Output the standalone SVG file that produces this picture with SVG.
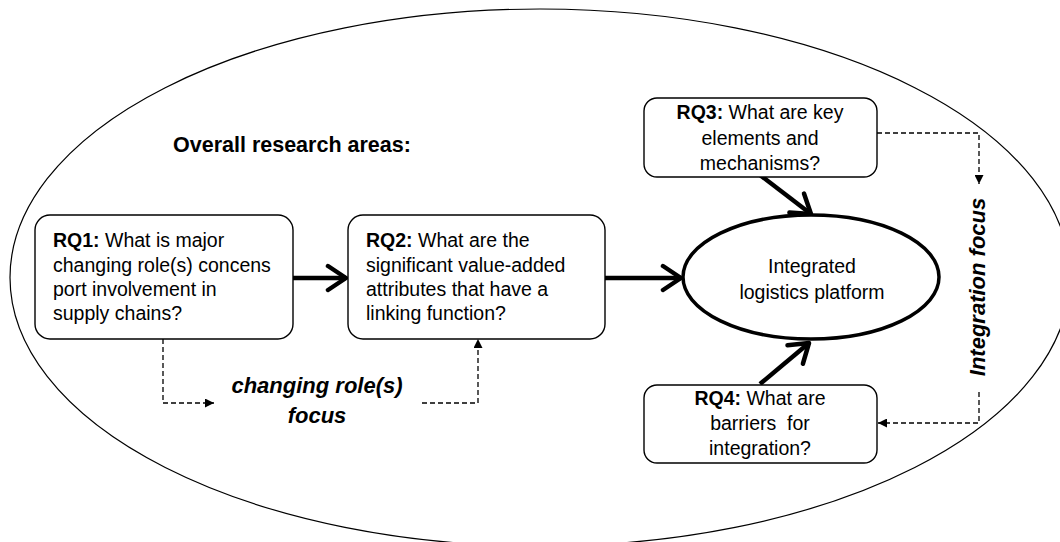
<svg xmlns="http://www.w3.org/2000/svg" width="1060" height="542" viewBox="0 0 1060 542">
<style>
  text { font-family: "Liberation Sans", Arial, sans-serif; fill: #000; }
  .t { font-size: 19.5px; }
  .b { font-weight: bold; }
  .bi { font-weight: bold; font-style: italic; font-size: 22px; }
  .box { fill: #fff; stroke: #000; stroke-width: 1.4; }
  .thick { fill: none; stroke: #000; stroke-width: 4.5; marker-end: url(#chev); }
  .dash { fill: none; stroke: #000; stroke-width: 1.3; stroke-dasharray: 5 3; }
</style>
<defs>
  <marker id="chev" markerUnits="userSpaceOnUse" viewBox="0 0 24 30" refX="21" refY="15" markerWidth="24" markerHeight="30" orient="auto">
    <path d="M3,3 L21,15 L3,27" fill="none" stroke="#000" stroke-width="4.5" stroke-linecap="round" stroke-linejoin="round"/>
  </marker>
  <marker id="tri" markerUnits="userSpaceOnUse" viewBox="0 0 10 10" refX="10" refY="5" markerWidth="10" markerHeight="9" orient="auto">
    <path d="M0,0 L10,5 L0,10 z" fill="#000"/>
  </marker>
</defs>

<g id="outer">
  <ellipse cx="540" cy="277.6" rx="530" ry="268.6" fill="none" stroke="#000" stroke-width="1.2"/>
  <text class="b" x="173" y="152" font-size="21.5">Overall research areas:</text>
</g>

<g id="connectors">
  <line class="thick" x1="293" y1="278" x2="346" y2="278"/>
  <line class="thick" x1="605" y1="278" x2="681" y2="278"/>
  <line class="thick" x1="760" y1="175" x2="811" y2="214"/>
  <line class="thick" x1="760" y1="384" x2="809" y2="343"/>
  <path class="dash" d="M877,133 H979 V184" marker-end="url(#tri)"/>
  <path class="dash" d="M979,392 V423 H878" marker-end="url(#tri)"/>
  <path class="dash" d="M163,339 V403 H214" marker-end="url(#tri)"/>
  <path class="dash" d="M422,403 H478 V339" marker-end="url(#tri)"/>
</g>

<g id="rq1">
  <rect class="box" x="35" y="215" width="258" height="124" rx="15"/>
  <text class="t" x="53"><tspan y="247"><tspan class="b">RQ1:</tspan> What is major</tspan><tspan x="53" y="272">changing role(s) concens</tspan><tspan x="53" y="296">port involvement in</tspan><tspan x="53" y="320">supply chains?</tspan></text>
</g>

<g id="rq2">
  <rect class="box" x="348" y="215" width="257" height="124" rx="15"/>
  <text class="t" x="366"><tspan y="247"><tspan class="b">RQ2:</tspan> What are the</tspan><tspan x="366" y="272">significant value-added</tspan><tspan x="366" y="296">attributes that have a</tspan><tspan x="366" y="320">linking function?</tspan></text>
</g>

<g id="platform">
  <ellipse cx="811" cy="277" rx="128" ry="62" fill="#fff" stroke="#000" stroke-width="3.5"/>
  <text class="t" text-anchor="middle" x="812" y="273">Integrated</text>
  <text class="t" text-anchor="middle" x="812" y="299">logistics platform</text>
</g>

<g id="rq3">
  <rect class="box" x="644" y="98" width="233" height="79" rx="13"/>
  <text class="t" text-anchor="middle" x="760" y="119"><tspan class="b">RQ3:</tspan> What are key</text>
  <text class="t" text-anchor="middle" x="760" y="145">elements and</text>
  <text class="t" text-anchor="middle" x="760" y="170">mechanisms?</text>
</g>

<g id="rq4">
  <rect class="box" x="644" y="385" width="233" height="78" rx="13"/>
  <text class="t" text-anchor="middle" x="760" y="405"><tspan class="b">RQ4:</tspan> What are</text>
  <text class="t" text-anchor="middle" x="760" y="430" style="white-space:pre">barriers  for</text>
  <text class="t" text-anchor="middle" x="760" y="455">integration?</text>
</g>

<g id="integration-focus">
  <text class="bi" text-anchor="middle" transform="translate(985,287) rotate(-90)">Integration focus</text>
</g>

<g id="changing-focus">
  <text class="bi" text-anchor="middle" x="317" y="393">changing role(s)</text>
  <text class="bi" text-anchor="middle" x="317" y="423">focus</text>
</g>
</svg>
